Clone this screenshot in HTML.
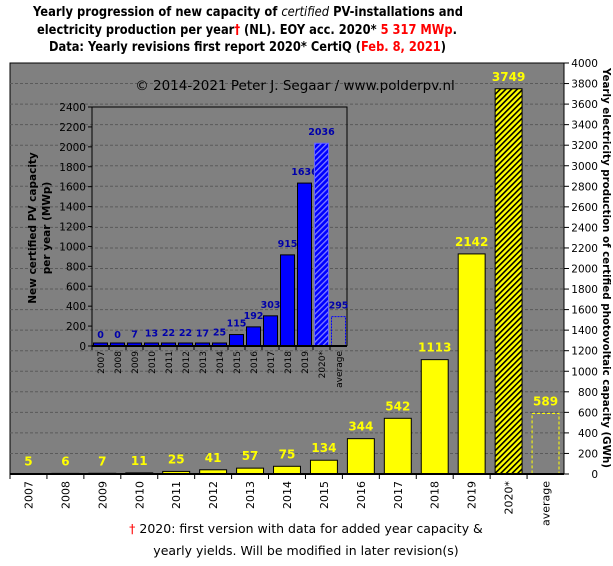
<!DOCTYPE html>
<html><head><meta charset="utf-8"><style>
body{margin:0;background:#fff;width:613px;height:562px;overflow:hidden;font-family:"DejaVu Sans","Liberation Sans",sans-serif}
svg text{font-family:"DejaVu Sans","Liberation Sans",sans-serif}
</style></head><body>
<svg id="c" width="613" height="562">
<defs>
<pattern id="hy" width="4" height="4" patternUnits="userSpaceOnUse" patternTransform="rotate(45)"><rect width="4" height="4" fill="#ffff00"/><rect width="1.6" height="4" fill="#000"/></pattern>
<pattern id="hb" width="4" height="4" patternUnits="userSpaceOnUse" patternTransform="rotate(45)"><rect width="4" height="4" fill="#0000ff"/><rect width="1.3" height="4" fill="#8080ff"/></pattern>
</defs>
<g font-weight="bold" font-size="13" fill="#000">
<text x="33" y="16" textLength="430" lengthAdjust="spacingAndGlyphs">Yearly progression of new capacity of <tspan font-style="italic" font-weight="normal">certified</tspan> PV-installations and</text>
<text x="37" y="34" textLength="420" lengthAdjust="spacingAndGlyphs">electricity production per year<tspan fill="#f00">†</tspan> (NL). EOY acc. 2020* <tspan fill="#f00">5 317 MWp</tspan>.</text>
<text x="49" y="51" textLength="397" lengthAdjust="spacingAndGlyphs">Data: Yearly revisions first report 2020* CertiQ (<tspan fill="#f00">Feb. 8, 2021</tspan>)</text>
</g>
<rect x="10" y="63" width="554" height="411" fill="#808080" stroke="#000"/>
<g id="main"></g>
<g id="inset"></g>
<text x="306" y="533" font-size="12.5" text-anchor="middle"><tspan fill="#f00">†</tspan> 2020: first version with data for added year capacity &amp;</text>
<text x="306" y="555" font-size="12.5" text-anchor="middle">yearly yields. Will be modified in later revision(s)</text>
</svg>
<script>
const categories=["2007","2008","2009","2010","2011","2012","2013","2014","2015","2016","2017","2018","2019","2020*","average"];
const production=[5,6,7,11,25,41,57,75,134,344,542,1113,2142,3749,589];
const capacity=[0,0,7,13,22,22,17,25,115,192,303,915,1636,2036,295];
const mainTicks=[0,200,400,600,800,1000,1200,1400,1600,1800,2000,2200,2400,2600,2800,3000,3200,3400,3600,3800,4000];
const insetTicks=[0,200,400,600,800,1000,1200,1400,1600,1800,2000,2200,2400];
const NS="http://www.w3.org/2000/svg";
function mk(p,t,a){const e=document.createElementNS(NS,t);for(const k in a)e.setAttribute(k,a[k]);p.appendChild(e);return e;}
const M={l:10,r:564,t:63,b:474,max:4000};
const my=v=>M.b-(v/M.max)*(M.b-M.t);
const cw=(M.r-M.l)/categories.length;
const mx=i=>M.l+cw*i;
const g=document.getElementById('main');
mainTicks.forEach(v=>{
 if(v>0&&v<4000){const l=mk(g,'line',{x1:M.l,x2:M.r,y1:my(v),y2:my(v),stroke:'#5a5a5a','stroke-dasharray':'3,2'});
 
 }
 mk(g,'line',{x1:M.r,x2:M.r+5,y1:my(v),y2:my(v),stroke:'#000'});
 const t=mk(g,'text',{x:M.r+34,y:my(v)+4,'font-size':10.5,'text-anchor':'end'});t.textContent=v;
 
 
});
const cr=mk(g,'text',{x:295,y:90,'font-size':13.5,'text-anchor':'middle',fill:'#000'});cr.textContent='© 2014-2021 Peter J. Segaar / www.polderpv.nl';


const rt=mk(g,'text',{transform:'translate(603,268) rotate(90)','font-size':11,'font-weight':'bold','text-anchor':'middle',textLength:400,lengthAdjust:'spacingAndGlyphs'});rt.textContent='Yearly electricity production of certified photovoltaic capacity (GWh)';


categories.forEach((c,i)=>{
 const v=production[i],x=mx(i)+5,w=cw-10,y=my(v);
 let fill='#ffff00',stroke='#000',dash='';
 if(c==='2020*')fill='url(#hy)';
 if(c==='average'){fill='none';stroke='#ffff00';dash='3,2';}
 const b=mk(g,'rect',{x:x,y:y,width:w,height:M.b-y,fill:fill,stroke:stroke,'stroke-dasharray':dash});
 
 
 const t=mk(g,'text',{x:mx(i)+cw/2,y:y-8,'font-size':12,'font-weight':'bold',fill:'#ffff00','text-anchor':'middle'});t.textContent=v;
 
 
 mk(g,'line',{x1:mx(i),x2:mx(i),y1:M.b,y2:M.b+5,stroke:'#000'});
 const xl=mk(g,'text',{transform:`translate(${mx(i)+cw/2+4},${M.b+7}) rotate(-90)`,'font-size':11,'text-anchor':'end'});xl.textContent=c;
 
 
});
mk(g,'line',{x1:M.l,x2:M.r,y1:M.b,y2:M.b,stroke:'#000','stroke-width':2});
const I={l:92,r:347,t:107,b:346,max:2400};
const iy=v=>I.b-(v/I.max)*(I.b-I.t);
const iw=(I.r-I.l)/categories.length;
const ix=i=>I.l+iw*i;
const h=document.getElementById('inset');
const fr=mk(h,'path',{d:`M${I.l},${I.b} V${I.t} H${I.r} V${I.b}`,fill:'none',stroke:'#000'});


insetTicks.forEach(v=>{
 mk(h,'line',{x1:I.l-4,x2:I.l,y1:iy(v),y2:iy(v),stroke:'#000'});
 const t=mk(h,'text',{x:I.l-6,y:iy(v)+4,'font-size':10.5,'text-anchor':'end'});t.textContent=v;
 
 
});
const it=mk(h,'text',{transform:'translate(36,228) rotate(-90)','font-size':10.5,'font-weight':'bold','text-anchor':'middle'});


mk(it,'tspan',{x:0,dy:0}).textContent='New certified PV capacity';
mk(it,'tspan',{x:0,dy:14}).textContent='per year (MWp)';
categories.forEach((c,i)=>{
 const v=capacity[i],x=ix(i)+1.5,w=iw-3,y=Math.min(iy(v),I.b-3);
 let fill='#0000ff',stroke='#000',dash='';
 if(c==='2020*'){fill='url(#hb)';stroke='#6666ff';}
 if(c==='average'){fill='none';stroke='#0000ff';dash='2,1';}
 const b=mk(h,'rect',{x:x,y:y,width:w,height:I.b-y,fill:fill,stroke:stroke,'stroke-dasharray':dash});
 
 
 const t=mk(h,'text',{x:ix(i)+iw/2,y:Math.min(iy(v),I.b)-8,'font-size':9.5,'font-weight':'bold',fill:'#0000aa','text-anchor':'middle'});t.textContent=v;
 
 
 mk(h,'line',{x1:ix(i),x2:ix(i),y1:I.b,y2:I.b+4,stroke:'#000'});
 const xl=mk(h,'text',{transform:`translate(${ix(i)+iw/2+3.5},${I.b+5}) rotate(-90)`,'font-size':9,'text-anchor':'end'});xl.textContent=c;
 
 
});
mk(h,'line',{x1:I.l,x2:I.r,y1:I.b,y2:I.b,stroke:'#000','stroke-width':2});
</script>
</body></html>
